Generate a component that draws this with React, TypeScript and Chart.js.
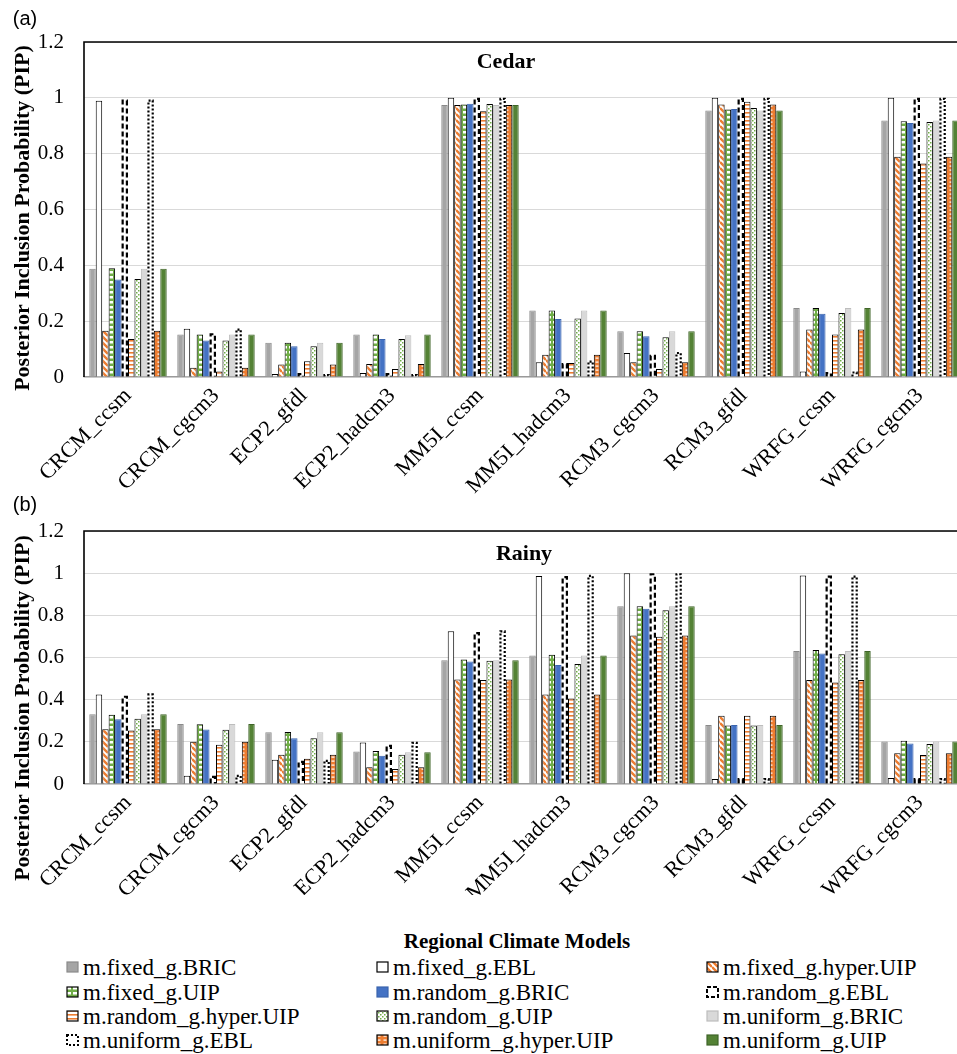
import React, { useEffect, useRef } from "react";
import { Chart, registerables } from "chart.js";

Chart.register(...registerables);

const SERIF = '"Liberation Serif", "Times New Roman", Times, serif';
const SANS = '"Liberation Sans", Arial, Helvetica, sans-serif';

// ---------- data ----------
const CATEGORIES = [
  "CRCM_ccsm",
  "CRCM_cgcm3",
  "ECP2_gfdl",
  "ECP2_hadcm3",
  "MM5I_ccsm",
  "MM5I_hadcm3",
  "RCM3_cgcm3",
  "RCM3_gfdl",
  "WRFG_ccsm",
  "WRFG_cgcm3",
];

const Y_TICKS = [0, 0.2, 0.4, 0.6, 0.8, 1, 1.2];

const SERIES_NAMES = [
  "m.fixed_g.BRIC",
  "m.fixed_g.EBL",
  "m.fixed_g.hyper.UIP",
  "m.fixed_g.UIP",
  "m.random_g.BRIC",
  "m.random_g.EBL",
  "m.random_g.hyper.UIP",
  "m.random_g.UIP",
  "m.uniform_g.BRIC",
  "m.uniform_g.EBL",
  "m.uniform_g.hyper.UIP",
  "m.uniform_g.UIP",
];

// Panel (a) Cedar
const CEDAR_FIXED_BRIC = [0.388, 0.152, 0.123, 0.152, 0.974, 0.238, 0.164, 0.955, 0.247, 0.919];
const CEDAR_FIXED_EBL = [0.99, 0.173, 0.011, 0.014, 1.0, 0.053, 0.086, 1.0, 0.02, 1.0];
const CEDAR_FIXED_HYPER = [0.166, 0.033, 0.045, 0.047, 0.974, 0.08, 0.053, 0.976, 0.17, 0.789];
const CEDAR_FIXED_UIP = [0.39, 0.152, 0.123, 0.152, 0.976, 0.238, 0.164, 0.958, 0.247, 0.916];
const CEDAR_RANDOM_BRIC = [0.349, 0.131, 0.11, 0.136, 0.979, 0.208, 0.146, 0.96, 0.227, 0.91];
const CEDAR_RANDOM_EBL = [0.994, 0.157, 0.014, 0.014, 1.0, 0.05, 0.08, 1.0, 0.018, 1.0];
const CEDAR_RANDOM_HYPER = [0.136, 0.02, 0.056, 0.029, 0.952, 0.05, 0.029, 0.986, 0.152, 0.765];
const CEDAR_RANDOM_UIP = [0.351, 0.131, 0.11, 0.136, 0.978, 0.21, 0.142, 0.964, 0.229, 0.913];
const CEDAR_UNIFORM_BRIC = [0.388, 0.152, 0.123, 0.15, 0.974, 0.238, 0.164, 0.955, 0.247, 0.919];
const CEDAR_UNIFORM_EBL = [0.994, 0.174, 0.011, 0.011, 1.0, 0.059, 0.09, 1.0, 0.02, 1.0];
const CEDAR_UNIFORM_HYPER = [0.166, 0.033, 0.045, 0.047, 0.974, 0.08, 0.053, 0.976, 0.17, 0.789];
const CEDAR_UNIFORM_UIP = [0.388, 0.152, 0.123, 0.152, 0.974, 0.238, 0.164, 0.955, 0.247, 0.919];

// Panel (b) Rainy
const RAINY_FIXED_BRIC = [0.331, 0.285, 0.246, 0.154, 0.587, 0.609, 0.843, 0.28, 0.631, 0.202];
const RAINY_FIXED_EBL = [0.425, 0.039, 0.115, 0.197, 0.724, 0.987, 1.0, 0.024, 0.989, 0.028];
const RAINY_FIXED_HYPER = [0.26, 0.2, 0.139, 0.08, 0.496, 0.425, 0.704, 0.324, 0.493, 0.146];
const RAINY_FIXED_UIP = [0.328, 0.283, 0.247, 0.157, 0.591, 0.613, 0.843, 0.277, 0.635, 0.205];
const RAINY_RANDOM_BRIC = [0.307, 0.258, 0.217, 0.134, 0.581, 0.564, 0.831, 0.28, 0.619, 0.192];
const RAINY_RANDOM_EBL = [0.419, 0.039, 0.11, 0.186, 0.721, 0.986, 1.0, 0.028, 0.989, 0.028];
const RAINY_RANDOM_HYPER = [0.254, 0.186, 0.12, 0.071, 0.493, 0.406, 0.698, 0.324, 0.482, 0.137];
const RAINY_RANDOM_UIP = [0.31, 0.257, 0.217, 0.139, 0.584, 0.569, 0.824, 0.277, 0.616, 0.19];
const RAINY_UNIFORM_BRIC = [0.331, 0.285, 0.246, 0.151, 0.587, 0.609, 0.843, 0.28, 0.631, 0.202];
const RAINY_UNIFORM_EBL = [0.43, 0.044, 0.115, 0.2, 0.729, 0.992, 1.0, 0.028, 0.989, 0.028];
const RAINY_UNIFORM_HYPER = [0.26, 0.2, 0.139, 0.079, 0.496, 0.425, 0.704, 0.324, 0.493, 0.146];
const RAINY_UNIFORM_UIP = [0.331, 0.285, 0.246, 0.151, 0.587, 0.609, 0.843, 0.28, 0.631, 0.202];

const CEDAR_VALUES = [
  CEDAR_FIXED_BRIC, CEDAR_FIXED_EBL, CEDAR_FIXED_HYPER, CEDAR_FIXED_UIP,
  CEDAR_RANDOM_BRIC, CEDAR_RANDOM_EBL, CEDAR_RANDOM_HYPER, CEDAR_RANDOM_UIP,
  CEDAR_UNIFORM_BRIC, CEDAR_UNIFORM_EBL, CEDAR_UNIFORM_HYPER, CEDAR_UNIFORM_UIP,
];
const RAINY_VALUES = [
  RAINY_FIXED_BRIC, RAINY_FIXED_EBL, RAINY_FIXED_HYPER, RAINY_FIXED_UIP,
  RAINY_RANDOM_BRIC, RAINY_RANDOM_EBL, RAINY_RANDOM_HYPER, RAINY_RANDOM_UIP,
  RAINY_UNIFORM_BRIC, RAINY_UNIFORM_EBL, RAINY_UNIFORM_HYPER, RAINY_UNIFORM_UIP,
];

// ---------- styles ----------
type StyleKey =
  | "grayDark" | "white" | "orangeDiag" | "greenLadder" | "blue" | "dashed"
  | "orangeLines" | "greenDots" | "grayLight" | "dotted" | "orangeDash" | "green";

const SERIES_STYLES: StyleKey[] = [
  "grayDark", "white", "orangeDiag", "greenLadder", "blue", "dashed",
  "orangeLines", "greenDots", "grayLight", "dotted", "orangeDash", "green",
];

const ORANGE = "#ed7d31";
const GREEN = "#548235";
const GREEN_LIGHT = "#70ad47";
const BLUE = "#4472c4";

function tile(w: number, h: number, draw: (g: CanvasRenderingContext2D) => void): CanvasPattern | string {
  const c = document.createElement("canvas");
  c.width = w;
  c.height = h;
  const g = c.getContext("2d");
  if (!g) return "#fff";
  draw(g);
  return g.createPattern(c, "repeat") || "#fff";
}

function makeFill(key: StyleKey): CanvasPattern | string {
  switch (key) {
    case "grayDark": return "#a5a5a5";
    case "white": return "#ffffff";
    case "blue": return BLUE;
    case "grayLight": return "#d9d9d9";
    case "green": return GREEN;
    case "dashed": return "#ffffff";
    case "dotted": return "#ffffff";
    case "orangeDiag":
      return tile(6, 6, (g) => {
        g.fillStyle = "#fff";
        g.fillRect(0, 0, 6, 6);
        g.strokeStyle = ORANGE;
        g.lineWidth = 2.4;
        g.beginPath();
        for (let k = -1; k <= 1; k++) {
          g.moveTo(0, 6 * k);
          g.lineTo(6, 6 * k + 6);
        }
        g.stroke();
      });
    case "greenLadder":
      return tile(6, 5, (g) => {
        g.fillStyle = GREEN_LIGHT;
        g.fillRect(0, 0, 6, 5);
        g.fillStyle = "#fff";
        g.fillRect(1, 1, 4, 2.5);
      });
    case "orangeLines":
      return tile(4, 4, (g) => {
        g.fillStyle = "#fff";
        g.fillRect(0, 0, 4, 4);
        g.fillStyle = ORANGE;
        g.fillRect(0, 0, 4, 1.6);
      });
    case "greenDots":
      return tile(4, 4, (g) => {
        g.fillStyle = "#fff";
        g.fillRect(0, 0, 4, 4);
        g.fillStyle = GREEN_LIGHT;
        g.fillRect(0, 0, 1.5, 1.5);
        g.fillRect(2, 2, 1.5, 1.5);
      });
    case "orangeDash":
      return tile(6, 4, (g) => {
        g.fillStyle = ORANGE;
        g.fillRect(0, 0, 6, 4);
        g.fillStyle = "#fff";
        g.fillRect(1.5, 1.5, 3, 1.2);
      });
  }
  return "#fff";
}

function borderColorFor(key: StyleKey): string {
  switch (key) {
    case "grayDark": return "#8a8a8a";
    case "grayLight": return "#bdbdbd";
    case "blue": return "#3a64ad";
    case "green": return "#3f6428";
    default: return "#000000";
  }
}

function outlineFor(key: StyleKey): { dash: number[]; width: number } | null {
  if (key === "dashed") return { dash: [5, 3], width: 2.2 };
  if (key === "dotted") return { dash: [2, 2], width: 2.2 };
  return null;
}

// ---------- plugins ----------
const outlinePlugin = {
  id: "outlineBars",
  afterDatasetsDraw(chart: any) {
    const ctx: CanvasRenderingContext2D = chart.ctx;
    chart.data.datasets.forEach((ds: any, i: number) => {
      const o = ds.outline;
      if (!o) return;
      const meta = chart.getDatasetMeta(i);
      ctx.save();
      ctx.strokeStyle = "#000";
      ctx.lineWidth = o.width;
      ctx.setLineDash(o.dash);
      ctx.lineCap = "butt";
      const lw = o.width / 2;
      meta.data.forEach((el: any) => {
        const { x, y, base, width } = el.getProps(["x", "y", "base", "width"], true);
        const l = x - width / 2 + lw;
        const r = x + width / 2 - lw;
        const t = Math.min(y + lw, base);
        ctx.beginPath();
        ctx.moveTo(l, base);
        ctx.lineTo(l, t);
        ctx.lineTo(r, t);
        ctx.lineTo(r, base);
        ctx.stroke();
      });
      ctx.restore();
    });
  },
};

const framePlugin = {
  id: "panelFrame",
  afterDraw(chart: any, _args: any, opts: any) {
    const ctx: CanvasRenderingContext2D = chart.ctx;
    const { left, top, right, bottom } = chart.chartArea;
    ctx.save();
    ctx.strokeStyle = "#000";
    ctx.lineWidth = 1.6;
    ctx.beginPath();
    ctx.moveTo(left, bottom);
    ctx.lineTo(left, top);
    ctx.lineTo(right, top);
    ctx.lineTo(right, bottom);
    ctx.stroke();
    if (opts && opts.text) {
      ctx.fillStyle = "#000";
      ctx.font = `bold 22px ${SERIF}`;
      ctx.textAlign = "center";
      ctx.textBaseline = "middle";
      ctx.fillText(opts.text, opts.x, top + opts.dy);
    }
    ctx.restore();
  },
};

function buildConfig(values: number[][], title: string, titleX: number, titleDy: number, padTop: number, xAxisH: number): any {
  return {
    type: "bar",
    data: {
      labels: CATEGORIES,
      datasets: SERIES_NAMES.map((name, i) => {
        const key = SERIES_STYLES[i];
        const outline = outlineFor(key);
        return {
          label: name,
          data: values[i],
          backgroundColor: makeFill(key),
          borderColor: borderColorFor(key),
          borderWidth: outline ? 0 : 1,
          outline,
          categoryPercentage: 0.88,
          barPercentage: 1,
        };
      }),
    },
    options: {
      responsive: false,
      animation: false,
      devicePixelRatio: 1,
      layout: { padding: { left: 0, right: 2, top: padTop, bottom: 0 } },
      plugins: {
        legend: { display: false },
        tooltip: { enabled: false },
        title: { display: false },
        panelFrame: { text: title, x: titleX, dy: titleDy },
      },
      scales: {
        x: {
          grid: { display: false, drawTicks: false },
          border: { display: true, color: "#9a9a9a", width: 1.2 },
          ticks: {
            font: { family: SERIF, size: 22 },
            color: "#000",
            minRotation: 45,
            maxRotation: 45,
            autoSkip: false,
            padding: 6,
          },
          afterFit(s: any) {
            s.height = xAxisH;
          },
        },
        y: {
          min: 0,
          max: 1.2,
          afterBuildTicks(s: any) {
            s.ticks = Y_TICKS.map((v) => ({ value: v }));
          },
          ticks: {
            font: { family: SERIF, size: 21 },
            color: "#000",
            padding: 20,
            callback: (v: any) => String(v),
          },
          grid: { color: "#d9d9d9", lineWidth: 1, drawTicks: false },
          border: { display: false },
          afterFit(s: any) {
            s.width = 84;
          },
        },
      },
    },
    plugins: [outlinePlugin, framePlugin],
  };
}

// ---------- components ----------
function Panel(props: { values: number[][]; title: string; titleX: number; titleDy: number; top: number; height: number; padTop: number; xAxisH: number }) {
  const ref = useRef<HTMLCanvasElement | null>(null);
  useEffect(() => {
    if (!ref.current) return;
    const chart = new Chart(ref.current, buildConfig(props.values, props.title, props.titleX, props.titleDy, props.padTop, props.xAxisH));
    return () => chart.destroy();
  }, []);
  return (
    <canvas
      ref={ref}
      width={966}
      height={props.height}
      style={{ position: "absolute", left: 0, top: props.top, width: 966, height: props.height }}
    />
  );
}

function Swatch(props: { index: number }) {
  const ref = useRef<HTMLCanvasElement | null>(null);
  useEffect(() => {
    const c = ref.current;
    if (!c) return;
    const g = c.getContext("2d");
    if (!g) return;
    const key = SERIES_STYLES[props.index];
    const w = c.width, h = c.height;
    g.clearRect(0, 0, w, h);
    g.fillStyle = makeFill(key) as any;
    g.fillRect(1, 1, w - 2, h - 2);
    const o = outlineFor(key);
    g.strokeStyle = o ? "#000" : borderColorFor(key);
    g.lineWidth = o ? 2 : 1.2;
    if (o) g.setLineDash(key === "dashed" ? [4, 2] : [2, 2]);
    g.strokeRect(1, 1, w - 2, h - 2);
  }, []);
  return <canvas ref={ref} width={13} height={12} style={{ width: 13, height: 12, marginRight: 4, flex: "none" }} />;
}

const LEGEND_COL_X = [66, 376, 706];
const LEGEND_ROW_Y = [967, 992, 1016, 1040];

export default function App() {
  useEffect(() => {
    document.body.style.margin = "0";
    document.body.style.overflow = "hidden";
  }, []);

  const yTitleStyle = (cy: number): React.CSSProperties => ({
    position: "absolute",
    left: 22,
    top: cy,
    transform: "translate(-50%, -50%) rotate(-90deg)",
    whiteSpace: "nowrap",
    fontFamily: SERIF,
    fontWeight: "bold",
    fontSize: 22,
    lineHeight: 1,
    color: "#000",
  });

  return (
    <div style={{ position: "relative", width: 957, height: 1054, overflow: "hidden", background: "#fff" }}>
      <Panel values={CEDAR_VALUES} title="Cedar" titleX={506} titleDy={20} top={0} height={495} padTop={42} xAxisH={118} />
      <Panel values={RAINY_VALUES} title="Rainy" titleX={524} titleDy={23} top={495} height={400} padTop={36} xAxisH={111} />

      <div style={{ position: "absolute", left: 25, top: 18, transform: "translate(-50%, -50%)", fontFamily: SANS, fontSize: 20, lineHeight: 1 }}>(a)</div>
      <div style={{ position: "absolute", left: 25, top: 504, transform: "translate(-50%, -50%)", fontFamily: SANS, fontSize: 20, lineHeight: 1 }}>(b)</div>

      <div style={yTitleStyle(218)}>Posterior Inclusion Probability (PIP)</div>
      <div style={yTitleStyle(708)}>Posterior Inclusion Probability (PIP)</div>

      <div style={{ position: "absolute", left: 517, top: 941, transform: "translate(-50%, -50%)", fontFamily: SERIF, fontWeight: "bold", fontSize: 21, lineHeight: 1, whiteSpace: "nowrap" }}>
        Regional Climate Models
      </div>

      {SERIES_NAMES.map((name, i) => {
        const col = i % 3;
        const row = Math.floor(i / 3);
        return (
          <div
            key={name}
            style={{
              position: "absolute",
              left: LEGEND_COL_X[col],
              top: LEGEND_ROW_Y[row] - 12,
              height: 24,
              display: "flex",
              alignItems: "center",
              fontFamily: SERIF,
              fontSize: 23,
              lineHeight: 1,
              whiteSpace: "nowrap",
              color: "#000",
            }}
          >
            <Swatch index={i} />
            <span>{name}</span>
          </div>
        );
      })}
    </div>
  );
}
